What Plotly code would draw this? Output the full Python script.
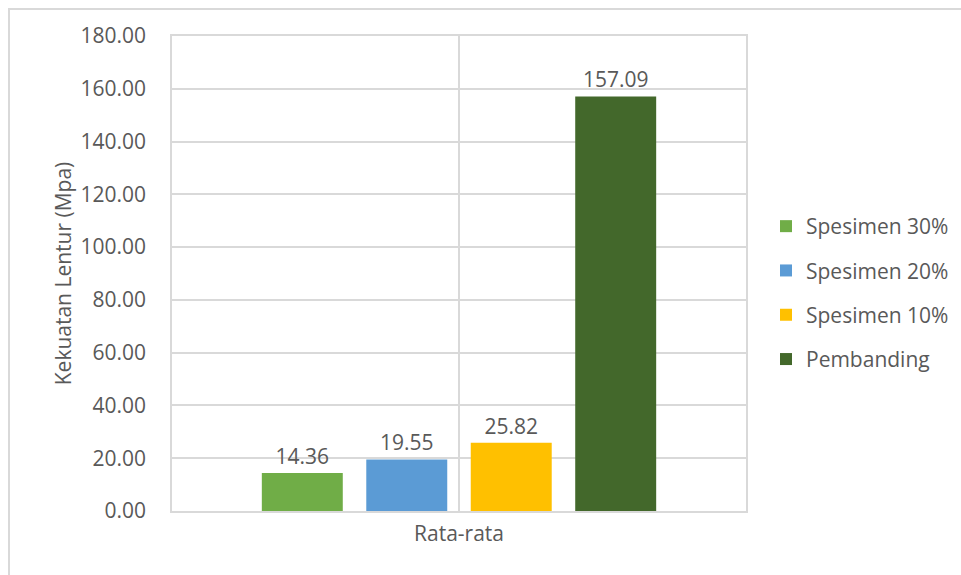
import plotly.graph_objects as go

categories = ["Rata-rata"]
series_names = ["Spesimen 30%", "Spesimen 20%", "Spesimen 10%", "Pembanding"]
series_values = [[14.36], [19.55], [25.82], [157.09]]
series_colors = ["#70AD47", "#5B9BD5", "#FFC000", "#43682B"]
y_ticks = [0, 20, 40, 60, 80, 100, 120, 140, 160, 180]

FONT = "Open Sans"
TXT = "#595959"
GRID = "#D9D9D9"
FS = 21

fig = go.Figure()
for i, (name, vals, col) in enumerate(zip(series_names, series_values, series_colors)):
    fig.add_trace(go.Bar(
        x=categories, y=vals, name=name, marker_color=col,
        marker_line_width=0,
        text=[f"{v:.2f}" for v in vals], textposition="outside",
        textfont=dict(family=FONT, size=FS, color=TXT),
        cliponaxis=False, legendgroup=f"g{i}",
    ))

L, R, T, B = 172, 961 - 746, 36, 575 - 511
W, H = 961, 575
pw, ph = W - L - R, H - T - B

fig.update_layout(
    width=W, height=H,
    margin=dict(l=L, r=R, t=T, b=B, pad=0, autoexpand=False),
    paper_bgcolor="white", plot_bgcolor="white",
    barmode="group", bargap=0.272, bargroupgap=0.225,
    font=dict(family=FONT, size=FS, color=TXT),
    showlegend=True,
    legend=dict(
        x=(766 - L) / pw, xanchor="left", y=1 - (293 - T) / ph, yanchor="middle",
        font=dict(family=FONT, size=FS, color=TXT),
        traceorder="grouped", tracegroupgap=14, itemwidth=30,
        bgcolor="rgba(0,0,0,0)",
    ),
    xaxis=dict(
        type="category", showgrid=True, gridcolor=GRID, gridwidth=1.5,
        showline=True, linecolor=GRID, linewidth=1.5, mirror=True,
        ticks="", tickfont=dict(family=FONT, size=FS, color=TXT),
        ticklabelstandoff=3,
    ),
    yaxis=dict(
        range=[0, 180], tickvals=y_ticks, tickformat=".2f",
        showgrid=True, gridcolor=GRID, gridwidth=1.5,
        showline=True, linecolor=GRID, linewidth=1.5, mirror=True,
        zeroline=False, ticks="", ticklabelstandoff=20,
        tickfont=dict(family=FONT, size=FS, color=TXT),
        title=dict(text="Kekuatan Lentur (Mpa)", standoff=3,
                   font=dict(family=FONT, size=FS, color=TXT)),
    ),
)

# outer chart border
fig.add_shape(
    type="rect", xref="paper", yref="paper",
    x0=(9 - L) / pw, x1=(W + 20 - L) / pw,
    y0=-(B + 20) / ph, y1=1 + (T - 9) / ph,
    line=dict(color=GRID, width=2), fillcolor="rgba(0,0,0,0)", layer="below",
)

fig.write_html("out.html")
